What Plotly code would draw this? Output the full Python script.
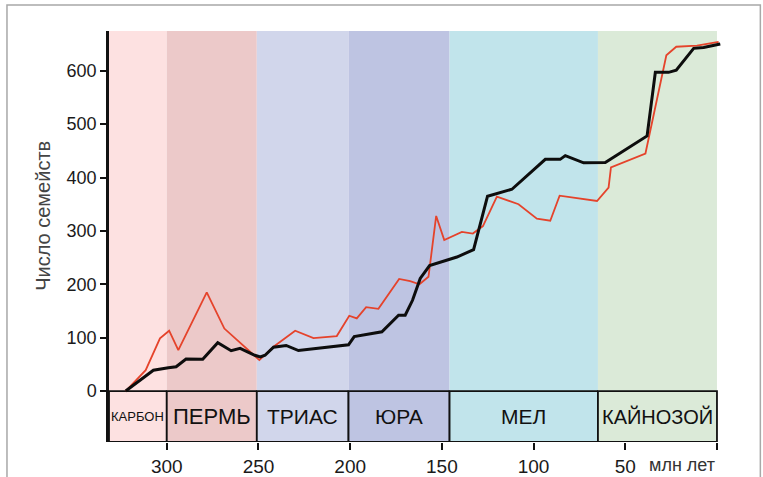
import plotly.graph_objects as go

# Data (Ma before present, number of families)
black_age = [322.4, 307.3, 299.1, 294.9, 289.5, 280.4, 272.2, 264.9, 260.0, 252.0, 249.0, 246.4,
             241.8, 234.9, 228.2, 200.9, 197.8, 182.7, 173.6, 170.0, 166.0, 161.8, 156.7, 141.8,
             132.7, 125.1, 111.8, 93.6, 85.5, 82.7, 72.7, 60.9, 38.1, 33.6, 26.4, 22.2, 12.7, 7.3, -1.8]
black_val = [0, 39, 43.6, 45.5, 60, 59.4, 90.5, 75.5, 80, 67, 64, 67,
             82, 85.4, 75.8, 86.5, 102, 111, 142, 142, 170, 211, 235, 251,
             265, 365, 378, 434, 434, 441, 427.5, 428, 478, 597, 597, 601, 642, 643.5, 650]

red_age = [322.4, 311.5, 303.7, 298.7, 293.7, 278.2, 268.6, 251.5, 249.5, 241.8, 230.0, 220.0,
           207.3, 200.5, 196.4, 191.3, 184.6, 173.3, 167.3, 162.2, 157.3, 153.1, 148.7, 139.1,
           133.1, 127.6, 120.0, 108.2, 98.2, 90.9, 85.8, 65.4, 59.1, 57.8, 39.0, 27.6, 22.2, 10.9, -0.9]
red_val = [0, 39, 98.6, 113, 76.8, 184.8, 117, 65, 58, 83, 113, 99,
           103, 141, 136, 157, 154, 210, 206, 200, 214, 328, 283, 298,
           295, 309, 364, 350, 323, 319, 366, 356, 381, 419, 445, 629, 645, 647, 654]

period_names = ["КАРБОН", "ПЕРМЬ", "ТРИАС", "ЮРА", "МЕЛ", "КАЙНОЗОЙ"]
period_start = [331.5, 300.0, 250.9, 200.9, 145.8, 64.9]
period_end = [300.0, 250.9, 200.9, 145.8, 64.9, 0.0]
period_colors = ["#fde1e1", "#ecc9c9", "#d1d6eb", "#bec4e2", "#c1e4eb", "#dbead8"]
period_font = [13, 22, 21, 21, 21, 20]

x_ticks = [300, 250, 200, 150, 100, 50, 0]
x_ticktext = ["300", "250", "200", "150", "100", "50", ""]
y_ticks = [0, 100, 200, 300, 400, 500, 600]

Y_TOP = 674.5
Y_BOT = -95.5
FONT = "Liberation Sans, Arial, sans-serif"

fig = go.Figure()

shapes = []
annotations = []
for name, s, e, c, fs in zip(period_names, period_start, period_end, period_colors, period_font):
    shapes.append(dict(type="rect", xref="x", yref="y", x0=s, x1=e, y0=0, y1=Y_TOP,
                       fillcolor=c, line=dict(width=0), layer="below"))
    shapes.append(dict(type="rect", xref="x", yref="y", x0=s, x1=e, y0=Y_BOT, y1=0,
                       fillcolor=c, line=dict(color="#111111", width=1.8), layer="below"))
    annotations.append(dict(x=(s + e) / 2, y=Y_BOT / 2, xref="x", yref="y", text=name,
                            showarrow=False, xanchor="center", yanchor="middle",
                            font=dict(size=fs, color="#111111", family=FONT)))

# outer gray frame
shapes.append(dict(type="rect", xref="paper", yref="paper", x0=-0.1667, x1=1.0643,
                   y0=-0.2, y1=1.0633, line=dict(color="#a8a8a8", width=1.5),
                   fillcolor="rgba(0,0,0,0)"))

annotations.append(dict(x=18.9, y=-0.056, xref="x", yref="paper", text="млн лет",
                        showarrow=False, xanchor="center", yanchor="middle",
                        font=dict(size=18, color="#333333", family=FONT)))
annotations.append(dict(x=-0.108, y=0.55, xref="paper", yref="paper", text="Число семейств",
                        showarrow=False, textangle=-90, xanchor="center", yanchor="middle",
                        font=dict(size=20, color="#444444", family=FONT)))

fig.add_trace(go.Scatter(x=red_age, y=red_val, mode="lines",
                         line=dict(color="#e5432b", width=1.8), hoverinfo="skip"))
fig.add_trace(go.Scatter(x=black_age, y=black_val, mode="lines",
                         line=dict(color="#0d0d0d", width=3), hoverinfo="skip"))

fig.update_layout(
    template="none",
    width=763, height=477,
    margin=dict(l=109, r=42, t=31, b=35, autoexpand=False),
    paper_bgcolor="white", plot_bgcolor="white",
    showlegend=False,
    shapes=shapes, annotations=annotations,
    font=dict(family=FONT, color="#1a1a1a"),
    xaxis=dict(range=[331.5, -2.2], tickvals=x_ticks, ticktext=x_ticktext,
               ticks="outside", ticklen=7, tickwidth=2, tickcolor="#111111",
               showline=False, showgrid=False, zeroline=False, automargin=False,
               tickfont=dict(size=19, color="#1a1a1a")),
    yaxis=dict(range=[Y_BOT, Y_TOP], tickvals=y_ticks,
               ticks="outside", ticklen=6, tickwidth=2, tickcolor="#111111",
               showline=True, linewidth=2.5, linecolor="#111111",
               showgrid=False, zeroline=False, automargin=False,
               tickfont=dict(size=18, color="#1a1a1a")),
)

fig.write_html("out.html", config={"displayModeBar": False},
               post_script="document.body.style.margin='0';")
